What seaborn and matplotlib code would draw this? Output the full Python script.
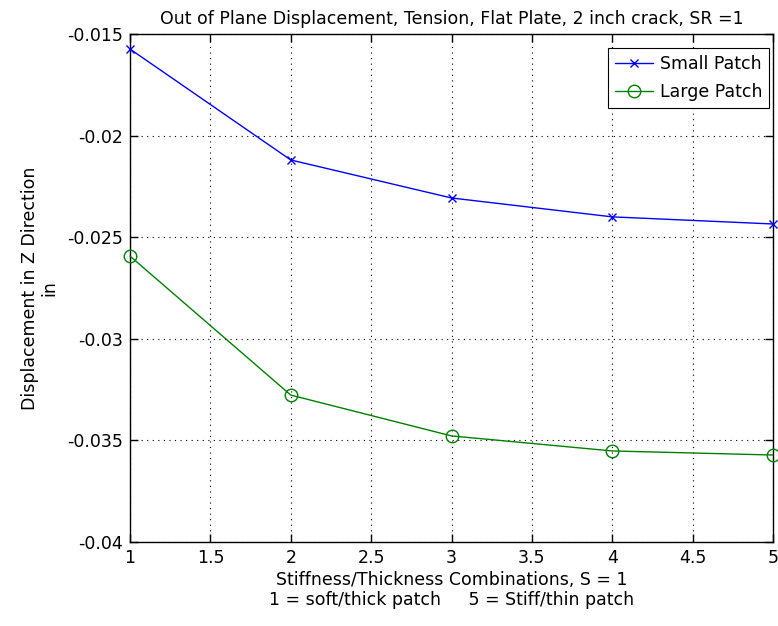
import pandas as pd
import matplotlib
matplotlib.use("Agg")
import matplotlib.pyplot as plt
import seaborn as sns

# Dados
combinacao = [1, 2, 3, 4, 5]
small_patch = [-0.01574, -0.0212, -0.02307, -0.0240, -0.02435]
large_patch = [-0.02593, -0.03277, -0.03478, -0.03552, -0.03572]

sns.set_style("ticks")
plt.rcParams["font.family"] = ["DejaVu Sans"]
plt.rcParams["text.color"] = "black"
plt.rcParams["axes.labelcolor"] = "black"
plt.rcParams["xtick.color"] = "black"
plt.rcParams["ytick.color"] = "black"
fs = 12.5

fig = plt.figure(figsize=(7.78, 6.26), dpi=100)
ax = fig.add_axes([0.1671, 0.1342, 0.8265, 0.8115])

sns.lineplot(x=combinacao, y=small_patch, ax=ax, color="#0000ff", marker="x",
             markersize=6, markeredgewidth=1.0, markeredgecolor="#0000ff",
             linewidth=1.0, label="Small Patch", clip_on=False, zorder=3)
sns.lineplot(x=combinacao, y=large_patch, ax=ax, color="#008000", marker="o",
             markersize=9, markerfacecolor="none", markeredgecolor="#008000",
             markeredgewidth=1.0, linewidth=1.0, label="Large Patch",
             clip_on=False, zorder=3)

ax.set_xlim(1, 5)
ax.set_ylim(-0.04, -0.015)
ax.set_xticks([1, 1.5, 2, 2.5, 3, 3.5, 4, 4.5, 5])
ax.set_xticklabels(["1", "1.5", "2", "2.5", "3", "3.5", "4", "4.5", "5"])
ax.set_yticks([-0.04, -0.035, -0.03, -0.025, -0.02, -0.015])
ax.set_yticklabels(["-0.04", "-0.035", "-0.03", "-0.025", "-0.02", "-0.015"])
ax.tick_params(direction="in", top=True, right=True, labelsize=fs, length=6,
               width=1, pad=5, colors="black")
ax.grid(True, linestyle=(0, (1, 4)), color="black", linewidth=0.8)
for s in ax.spines.values():
    s.set_visible(True)
    s.set_linewidth(1.0)
    s.set_color("black")

ax.set_title("Out of Plane Displacement, Tension, Flat Plate, 2 inch crack, SR =1",
             fontsize=fs, pad=7, color="black")
ax.set_xlabel("Stiffness/Thickness Combinations, S = 1\n1 = soft/thick patch     5 = Stiff/thin patch",
              fontsize=fs, linespacing=1.1, labelpad=3, color="black")
ax.set_ylabel("Displacement in Z Direction\nin", fontsize=fs, linespacing=1.1,
              labelpad=6, color="black")

leg = ax.legend(loc="upper right", bbox_to_anchor=(0.994, 0.972), fontsize=fs,
                frameon=True, fancybox=False, edgecolor="black", framealpha=1,
                handlelength=2.2, borderaxespad=0, labelspacing=0.55,
                handletextpad=0.4, borderpad=0.4)
leg.get_frame().set_linewidth(0.8)
for t in leg.get_texts():
    t.set_color("black")

fig.savefig("out.png", dpi=100)
plt.close(fig)
